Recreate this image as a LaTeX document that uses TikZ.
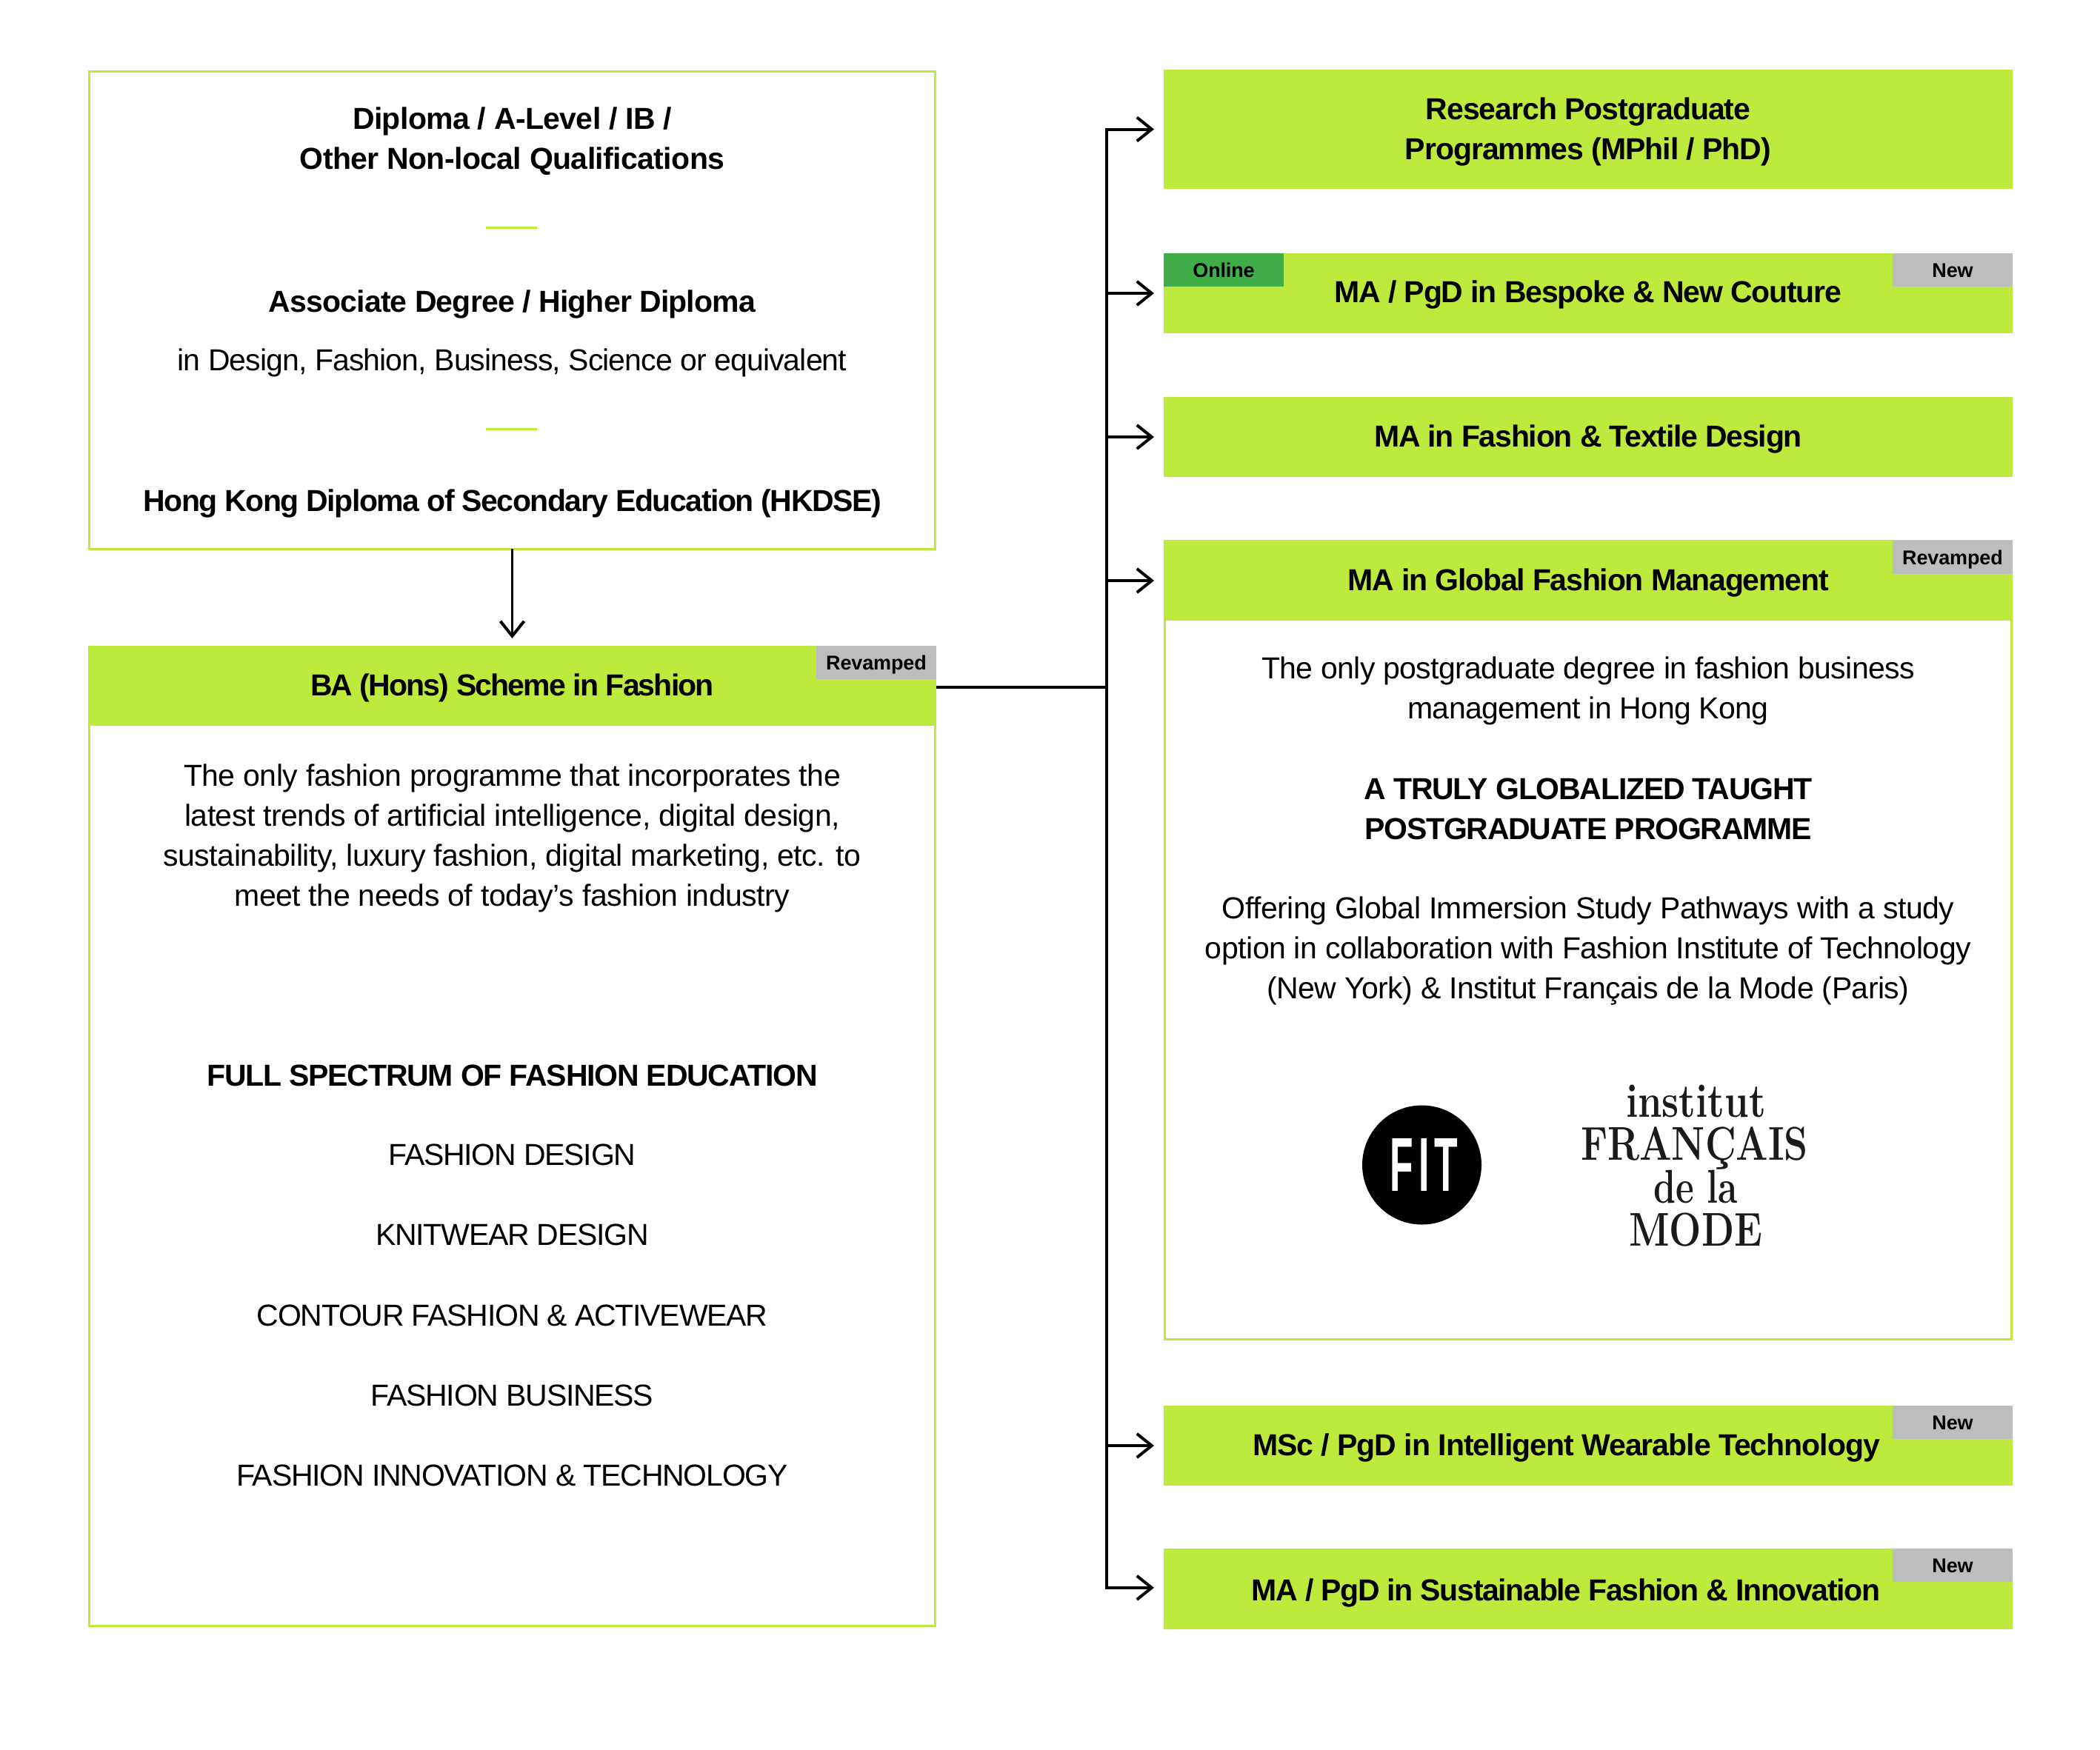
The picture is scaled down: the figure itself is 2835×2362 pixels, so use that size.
\documentclass[tikz,border=0pt]{standalone}
\usepackage{fontspec}
\usepackage{graphicx}
\usetikzlibrary{arrows.meta}
\newfontfamily\libb[LetterSpace=-1.2]{Liberation Sans}
\newfontfamily\libh[LetterSpace=-3]{Liberation Sans}
\newfontfamily\libt[LetterSpace=-0.5]{Liberation Sans}
\newfontfamily\fitfam{Liberation Sans}
\newfontfamily\logofam{Latin Modern Roman}
\definecolor{lime}{RGB}{190,234,62}
\definecolor{onl}{RGB}{65,173,73}
\definecolor{tagg}{RGB}{187,189,191}
\definecolor{logok}{RGB}{26,26,26}
\newcommand{\bodyf}{\libb\fontsize{41}{54}\selectfont}
\newcommand{\capsf}{\libh\fontsize{41}{54}\selectfont}
\newcommand{\headf}{\libh\bfseries\fontsize{41}{54}\selectfont}
\newcommand{\tagf}{\libt\bfseries\fontsize{27}{34}\selectfont}
\newcommand{\logof}{\logofam\bfseries\fontsize{64}{64}\selectfont}
\tikzset{
  x=1pt,y=-1pt,
  txt/.style={inner sep=0pt,outer sep=0pt,align=center,text=black,execute at begin node=\strut,execute at end node=\strut},
  bodytxt/.style={txt,font=\bodyf},
  capstxt/.style={txt,font=\capsf},
  headtxt/.style={txt,font=\headf},
  track/.style={execute at begin node=\addfontfeature{LetterSpace=#1}},
  outline/.style={draw=lime,line width=3pt,fill=white,inner sep=0pt,outer sep=0pt,anchor=north west},
  hdr/.style={fill=lime,inner sep=0pt,outer sep=0pt,anchor=north west,minimum width=1146pt,txt,font=\headf},
  tagbox/.style={inner sep=0pt,outer sep=0pt,minimum width=162pt,minimum height=45pt,text height=19.5pt,text depth=0pt,font=\tagf,text=black},
  newtag/.style={tagbox,fill=tagg,anchor=north east},
  onltag/.style={tagbox,fill=onl,anchor=north west},
  feeder/.style={line width=4.5pt,black},
  arr/.style={line width=4pt,black,-{Straight Barb[length=20pt,width=32pt,line width=4pt]},shorten >=13pt},
  sep/.style={draw=lime,line width=3pt},
  logotxt/.style={inner sep=0pt,outer sep=0pt,anchor=base,font=\logof,text=logok},
}
\begin{document}
\begin{tikzpicture}
\useasboundingbox[fill=white] (0,0) rectangle (2835,2362);
% left column
\node[outline,minimum width=1142pt,minimum height=644.5pt] (entry) at (120.5,96.5) {};
\node[headtxt,track=-1.5] (t1) at (691.5,195) {Diploma / A-Level / IB /\\Other Non-local Qualifications};
\draw[sep] (656,307) -- (725,307);
\node[headtxt,track=-2.1] (t2) at (691.5,411) {Associate Degree / Higher Diploma};
\node[bodytxt,track=-2.2] (t3) at (691.5,490) {in Design, Fashion, Business, Science or equivalent};
\draw[sep] (656,579) -- (725,579);
\node[headtxt,track=-3.6] (t4) at (691.5,680) {Hong Kong Diploma of Secondary Education (HKDSE)};

\node[outline,minimum width=1142pt,minimum height=1322pt] (babody) at (120.5,873) {};
\node[hdr,minimum width=1145pt,minimum height=108pt] (ba) at (119,872) {};
\node[headtxt,track=-4.5] (bat) at (691.5,929) {BA (Hons) Scheme in Fashion};
\node[newtag] (batag) at (1264,872) {Revamped};
\node[bodytxt] (b1) at (691.5,1135.5) {The only fashion programme that incorporates the\\latest trends of artificial intelligence, digital design,\\sustainability, luxury fashion, digital marketing, etc. to\\meet the needs of today’s fashion industry};
\node[headtxt] (b2) at (691.5,1456) {FULL SPECTRUM OF FASHION EDUCATION};
\node[capstxt] (b3) at (691.5,1563) {FASHION DESIGN};
\node[capstxt] (b4) at (691.5,1671) {KNITWEAR DESIGN};
\node[capstxt] (b5) at (691.5,1780) {CONTOUR FASHION \& ACTIVEWEAR};
\node[capstxt] (b6) at (691.5,1888) {FASHION BUSINESS};
\node[capstxt] (b7) at (691.5,1996) {FASHION INNOVATION \& TECHNOLOGY};

% right column
\node[hdr,minimum height=161pt] (research) at (1571,94) {};
\node[headtxt,track=-2.5] (researcht) at (2144,182) {Research Postgraduate\\Programmes (MPhil / PhD)};
\node[hdr,minimum height=108pt] (bespoke) at (1571,342) {};
\node[headtxt] (bespoket) at (2144,398) {MA / PgD in Bespoke \& New Couture};
\node[onltag] (bespokeon) at (1571,342) {Online};
\node[newtag] (bespokenew) at (2717,342) {New};
\node[hdr,minimum height=108pt] (textile) at (1571,536) {};
\node[headtxt] (textilet) at (2144,592.5) {MA in Fashion \& Textile Design};

\node[outline,minimum width=1143pt,minimum height=1078.5pt] (gfmbody) at (1572.5,730) {};
\node[hdr,minimum height=108pt] (gfm) at (1571,730) {};
\node[headtxt] (gfmt) at (2144,786.5) {MA in Global Fashion Management};
\node[newtag] (gfmtag) at (2717,730) {Revamped};
\node[bodytxt,track=-1.5] (g1) at (2144,937) {The only postgraduate degree in fashion business\\management in Hong Kong};
\node[headtxt] (g2) at (2144,1100) {A TRULY GLOBALIZED TAUGHT\\POSTGRADUATE PROGRAMME};
\node[bodytxt] (g3) at (2144,1288) {Offering Global Immersion Study Pathways with a study\\option in collaboration with Fashion Institute of Technology\\(New York) \& Institut Français de la Mode (Paris)};

\node[circle,fill=black,minimum size=161pt,inner sep=0pt,outer sep=0pt] (fit) at (1919.5,1573) {};
\node[inner sep=0pt,outer sep=0pt,text=white] (fittxt) at (1922.2,1573.3) {\resizebox{91pt}{71pt}{\fitfam\bfseries F\kern.14em I\kern.12em T}};
\node[logotxt] (l1) at (2289.5,1508) {\resizebox{189pt}{\height}{institut}};
\node[logotxt] (l2) at (2287.5,1566) {\resizebox{307pt}{\height}{FRANÇAIS}};
\node[logotxt] (l3) at (2289,1624) {\resizebox{114pt}{\height}{de la}};
\node[logotxt] (l4) at (2289,1682) {\resizebox{180pt}{\height}{MODE}};

\node[hdr,minimum height=108pt] (msc) at (1571,1898) {};
\node[headtxt,track=-2.5] (msct) at (2114.5,1955) {MSc / PgD in Intelligent Wearable Technology};
\node[newtag] (msctag) at (2717,1898) {New};
\node[hdr,minimum height=108.7pt] (sus) at (1571,2091) {};
\node[headtxt,track=-3.3] (sust) at (2114,2151) {MA / PgD in Sustainable Fashion \& Innovation};
\node[newtag] (sustag) at (2717,2091) {New};

% connectors
\coordinate (trunk) at (1494,928);
\draw[arr,line width=3.5pt,shorten >=0pt] (entry.south) -- ([yshift=10pt]ba.north);
\draw[feeder] (ba.east |- trunk) -- (trunk);
\foreach \target in {research,bespoke,textile,gfm,msc}
  \draw[arr] (trunk) |- (\target.west);
\draw[arr] (trunk) |- ([yshift=1.5pt]sus.west);
\end{tikzpicture}
\end{document}
